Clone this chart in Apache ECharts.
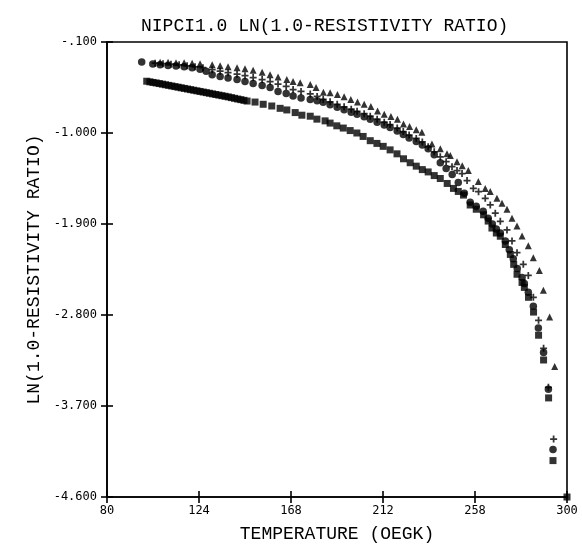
<!DOCTYPE html>
<html><head><meta charset="utf-8">
<script src="https://cdn.jsdelivr.net/npm/echarts@6/dist/echarts.min.js"></script>
<style>html,body{margin:0;padding:0;background:#fff}#c{width:582px;height:548px}</style>
</head><body><div id="c"></div>
<script>
// Tick values and labels
const xTicks = [80, 124, 168, 212, 256, 300];
const xTickLabels = ["80", "124", "168", "212", "258", "300"];
const yTicks = [-4.6, -3.7, -2.8, -1.9, -1.0, -0.1];
const yTickLabels = ["-4.600", "-3.700", "-2.800", "-1.900", "-1.000", "-.100"];

// Triangles series
const triT = [105.4,109.2,113.0,116.9,120.7,124.5,130.3,134.1,137.9,142.2,146.0,149.9,154.2,158.0,161.8,166.0,169.0,172.4,177.2,180.0,183.5,186.7,190.2,193.4,196.6,199.8,203.0,206.2,209.4,212.6,215.8,218.9,221.8,224.7,227.9,230.6,235.4,239.4,242.6,244.2,247.4,249.9,252.8,257.6,260.9,263.3,266.5,268.9,271.3,273.7,276.1,278.5,281.5,283.9,286.8,288.7,291.7,294.1];
const triV = [-0.301,-0.301,-0.305,-0.305,-0.310,-0.315,-0.325,-0.335,-0.345,-0.354,-0.364,-0.379,-0.398,-0.423,-0.447,-0.472,-0.491,-0.504,-0.521,-0.550,-0.596,-0.602,-0.619,-0.641,-0.668,-0.694,-0.716,-0.739,-0.782,-0.814,-0.837,-0.863,-0.912,-0.935,-0.968,-0.993,-1.108,-1.157,-1.206,-1.222,-1.284,-1.323,-1.372,-1.480,-1.548,-1.578,-1.646,-1.695,-1.754,-1.842,-1.920,-2.018,-2.116,-2.233,-2.360,-2.556,-2.820,-3.309];

// Plus series
const plusT = [103.0,106.8,110.6,114.5,118.3,122.1,125.9,130.3,134.1,137.9,142.2,146.0,149.9,154.2,158.0,161.8,165.7,169.0,172.8,177.2,180.5,183.4,186.7,190.1,193.4,196.8,199.6,203.0,205.9,209.2,212.6,215.4,218.8,221.7,224.5,227.9,230.8,233.6,236.5,239.4,242.2,245.0,247.4,249.8,252.2,255.2,257.7,260.9,263.3,265.7,268.1,271.3,273.7,276.1,279.1,281.5,283.9,286.4,288.8,291.1,293.6];
const plusV = [-0.310,-0.315,-0.320,-0.325,-0.335,-0.345,-0.354,-0.374,-0.389,-0.403,-0.418,-0.433,-0.452,-0.472,-0.491,-0.516,-0.540,-0.570,-0.589,-0.614,-0.638,-0.668,-0.692,-0.716,-0.741,-0.765,-0.785,-0.809,-0.834,-0.863,-0.893,-0.917,-0.951,-0.986,-1.020,-1.054,-1.088,-1.137,-1.186,-1.235,-1.284,-1.333,-1.372,-1.401,-1.470,-1.548,-1.580,-1.646,-1.712,-1.793,-1.874,-1.959,-2.067,-2.184,-2.299,-2.409,-2.625,-2.853,-3.130,-3.515,-4.027];

// Circles series
const circT = [96.6,101.9,105.4,109.2,113.0,116.9,120.7,124.5,127.4,130.3,134.1,137.9,142.2,146.0,149.9,154.2,158.0,161.8,165.7,169.0,172.8,177.2,180.5,183.4,186.7,190.1,193.4,196.8,199.6,203.0,205.9,209.2,212.6,215.4,218.8,221.7,224.5,227.9,230.8,233.6,236.5,239.4,242.2,245.1,248.0,250.9,253.7,256.6,259.9,262.3,264.3,266.2,268.1,270.5,272.4,274.3,276.2,278.5,279.6,281.5,283.9,286.3,288.8,291.1,293.3];
const circV = [-0.299,-0.318,-0.325,-0.332,-0.338,-0.345,-0.354,-0.369,-0.389,-0.423,-0.442,-0.457,-0.472,-0.491,-0.511,-0.531,-0.550,-0.589,-0.609,-0.635,-0.653,-0.668,-0.682,-0.697,-0.721,-0.746,-0.770,-0.795,-0.814,-0.839,-0.863,-0.893,-0.922,-0.946,-0.981,-1.015,-1.049,-1.083,-1.118,-1.157,-1.215,-1.294,-1.352,-1.411,-1.489,-1.597,-1.685,-1.724,-1.773,-1.842,-1.900,-1.949,-1.989,-2.067,-2.155,-2.243,-2.341,-2.429,-2.488,-2.576,-2.713,-2.928,-3.172,-3.534,-4.131];

// Squares series
const sqT = [99,100.5,102,103.5,105,106.5,108,109.5,111,112.5,114,115.5,117,118.5,120,121.5,123,124.5,126,127.5,129,130.5,132,133.5,135,136.5,138,139.5,141,142.5,144,145.5,147,
  150.8,154.7,158.8,162.8,166.0,170.0,173.2,177.2,180.4,184.3,186.7,189.9,193.0,196.3,199.5,202.5,205.9,209.1,212.1,215.4,218.7,221.8,225.0,227.9,230.8,233.6,236.5,239.4,242.7,245.7,248.0,250.5,253.7,256.6,260.1,262.3,264.1,266.2,268.1,270.5,272.9,274.5,276.1,278.5,279.6,281.6,284.0,286.4,288.8,291.2,293.3,300];
const sqV = [-0.488,-0.494,-0.500,-0.505,-0.511,-0.517,-0.523,-0.529,-0.535,-0.541,-0.547,-0.553,-0.559,-0.565,-0.571,-0.577,-0.583,-0.589,-0.595,-0.601,-0.607,-0.613,-0.619,-0.625,-0.631,-0.637,-0.643,-0.650,-0.657,-0.664,-0.670,-0.677,-0.684,
  -0.694,-0.716,-0.733,-0.756,-0.772,-0.798,-0.824,-0.834,-0.863,-0.880,-0.902,-0.929,-0.951,-0.976,-1.000,-1.034,-1.076,-1.103,-1.132,-1.167,-1.206,-1.255,-1.294,-1.328,-1.362,-1.385,-1.421,-1.450,-1.499,-1.548,-1.578,-1.614,-1.712,-1.754,-1.809,-1.871,-1.940,-1.989,-2.021,-2.103,-2.201,-2.299,-2.397,-2.478,-2.527,-2.625,-2.771,-3.000,-3.245,-3.620,-4.240,-4.600];

const zip = (a, b) => a.map((t, i) => [t, b[i]]);
const fmtX = v => { const i = xTicks.findIndex(t => Math.abs(t - v) < 1e-6); return i >= 0 ? xTickLabels[i] : ''; };
const fmtY = v => { const i = yTicks.findIndex(t => Math.abs(t - v) < 1e-6); return i >= 0 ? yTickLabels[i] : ''; };

const mono = '"Liberation Mono", "DejaVu Sans Mono", monospace';
const tickFont = '"DejaVu Sans Mono", monospace';
const lineStyle = { color: '#000', width: 1.6 };

const chart = echarts.init(document.getElementById('c'), null, { renderer: 'canvas' });
chart.setOption({
  backgroundColor: '#fff',
  animation: false,
  title: {
    text: 'NIPCI1.0 LN(1.0-RESISTIVITY RATIO)',
    left: 136, top: 12,
    textStyle: { fontFamily: mono, fontSize: 18, fontWeight: 'normal', color: '#000' }
  },
  grid: { left: 107, right: 15, top: 42, bottom: 46, show: true, borderColor: '#000', borderWidth: 1.6, containLabel: false },
  xAxis: [{
    type: 'value', min: 80, max: 300, position: 'bottom',
    name: 'TEMPERATURE (OEGK)', nameLocation: 'middle', nameGap: 28,
    nameTextStyle: { fontFamily: mono, fontSize: 18, color: '#000' },
    axisLine: { show: true, onZero: false, lineStyle },
    axisTick: { show: true, length: 6, customValues: xTicks, lineStyle },
    axisLabel: { customValues: xTicks, formatter: fmtX, fontFamily: tickFont, fontSize: 12, color: '#000', margin: 8 },
    splitLine: { show: false }
  }, {
    type: 'value', min: 80, max: 300, position: 'bottom',
    axisLine: { show: false, onZero: false },
    axisTick: { show: true, inside: true, length: 6, customValues: xTicks, lineStyle },
    axisLabel: { show: false },
    splitLine: { show: false }
  }],
  yAxis: [{
    type: 'value', min: -4.6, max: -0.1, position: 'left',
    name: 'LN(1.0-RESISTIVITY RATIO)', nameLocation: 'middle', nameGap: 55,
    nameTextStyle: { fontFamily: mono, fontSize: 18, color: '#000' },
    axisLine: { show: true, onZero: false, lineStyle },
    axisTick: { show: true, length: 6, customValues: yTicks, lineStyle },
    axisLabel: { customValues: yTicks, formatter: fmtY, fontFamily: tickFont, fontSize: 12, color: '#000', margin: 10 },
    splitLine: { show: false }
  }, {
    type: 'value', min: -4.6, max: -0.1, position: 'left',
    axisLine: { show: false, onZero: false },
    axisTick: { show: true, inside: true, length: 6, customValues: yTicks, lineStyle },
    axisLabel: { show: false },
    splitLine: { show: false }
  }],
  series: [
    { type: 'scatter', name: 'squares', data: zip(sqT, sqV), symbol: 'rect', symbolSize: 7, itemStyle: { color: '#000' }, clip: false },
    { type: 'scatter', name: 'circles', data: zip(circT, circV), symbol: 'circle', symbolSize: 7.5, itemStyle: { color: '#000' } },
    { type: 'scatter', name: 'plus', data: zip(plusT, plusV), symbol: 'path://M-1,-4H1V-1H4V1H1V4H-1V1H-4V-1H-1Z', symbolSize: 7, itemStyle: { color: '#000' } },
    { type: 'scatter', name: 'triangles', data: zip(triT, triV), symbol: 'triangle', symbolSize: 7, itemStyle: { color: '#000' } }
  ]
});
</script></body></html>
